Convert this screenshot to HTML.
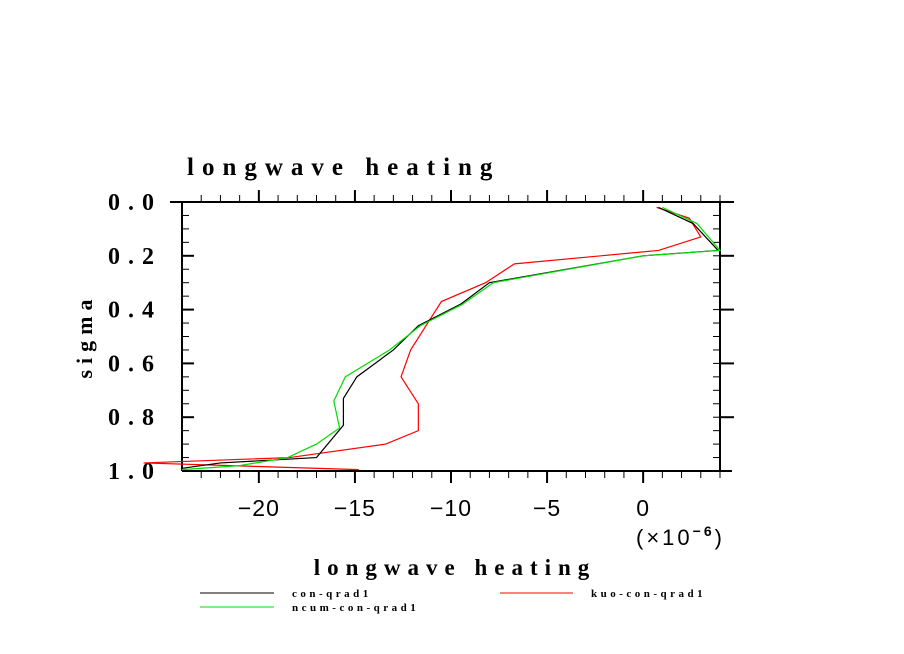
<!DOCTYPE html>
<html><head><meta charset="utf-8"><style>
body{margin:0;background:#fff}
svg{display:block}
text{font-family:"Liberation Serif",serif;font-weight:bold;fill:#000}
</style></head><body>
<svg id="chart" width="904" height="654" viewBox="0 0 904 654" xmlns="http://www.w3.org/2000/svg">
<text x="187" y="175" font-size="25" letter-spacing="8">longwave heating</text>
<g id="axes"></g>
<g id="series"></g>
<text transform="translate(92,336) rotate(-90)" text-anchor="middle" font-size="22" letter-spacing="6">sigma</text>
<text x="455" y="575" text-anchor="middle" font-size="23" letter-spacing="7">longwave heating</text>
<text x="636" y="545" font-size="22" style="font-family:'Liberation Sans',sans-serif;font-weight:normal" letter-spacing="3">(×10<tspan dy="-9" font-size="14" style="font-weight:bold">−6</tspan><tspan dy="9">)</tspan></text>
<g>
<line x1="200" y1="593" x2="274" y2="593" stroke="#000" stroke-width="1"/>
<text x="292" y="597" font-size="11" letter-spacing="3.5">con-qrad1</text>
<line x1="200" y1="607" x2="274" y2="607" stroke="#00dd00" stroke-width="1"/>
<text x="292" y="611" font-size="11" letter-spacing="3.5">ncum-con-qrad1</text>
<line x1="500" y1="593" x2="573" y2="593" stroke="#f00" stroke-width="1"/>
<text x="591" y="597" font-size="11" letter-spacing="3.5">kuo-con-qrad1</text>
</g>
</svg>
<script>
const xTicks=[-20,-15,-10,-5,0];
const yTicks=[0,0.2,0.4,0.6,0.8,1.0];
const yTickLabels=["0.0","0.2","0.4","0.6","0.8","1.0"];
const blackSigma=[0.02,0.08,0.18,0.2,0.3,0.38,0.46,0.55,0.65,0.73,0.83,0.95,0.97,0.99];
const blackVals=[0.8,2.6,3.9,0,-8,-9.5,-11.7,-13,-14.9,-15.6,-15.6,-17,-22,-24];
const greenSigma=[0.02,0.08,0.18,0.2,0.3,0.38,0.46,0.55,0.65,0.74,0.84,0.9,0.95,0.98,0.995];
const greenVals=[1,2.8,4,0,-7.8,-9.4,-11.6,-13.2,-15.5,-16.1,-15.8,-17,-18.5,-21,-24];
const redSigma=[0.02,0.06,0.13,0.18,0.2,0.23,0.3,0.37,0.46,0.55,0.65,0.75,0.85,0.9,0.95,0.97,0.995];
const redVals=[0.7,2.4,3,0.8,-2.2,-6.7,-8.2,-10.5,-11.3,-12.1,-12.6,-11.7,-11.7,-13.4,-18.4,-26,-14.8];
const X0=182,X1=720,Y0=202,Y1=471,XMIN=-24,XMAX=4;
const sx=v=>X0+(v-XMIN)/(XMAX-XMIN)*(X1-X0);
const sy=s=>Y0+s*(Y1-Y0);
const NS="http://www.w3.org/2000/svg";
const axes=document.getElementById('axes');
function ln(x1,y1,x2,y2,w){const l=document.createElementNS(NS,'line');l.setAttribute('x1',x1);l.setAttribute('y1',y1);l.setAttribute('x2',x2);l.setAttribute('y2',y2);l.setAttribute('stroke','#000');l.setAttribute('stroke-width',w);axes.appendChild(l);return l;}
let f=ln(X0,Y0,X1,Y0,2);


f=ln(X0,Y1,X1+12,Y1,2);


f=ln(X0,Y0,X0,Y1,2);


f=ln(X1,Y0,X1,Y1,2);


ln(X0-12,Y0,X0,Y0,2);ln(X1,Y0,X1+14,Y0,2);
for(let v=-23;v<=4;v++){
  const x=sx(v),maj=xTicks.includes(v);
  ln(x,Y1,x,Y1+(maj?12:7),maj?2:1);
  ln(x,Y0,x,Y0-(maj?12:7),maj?2:1);
}
for(let i=1;i<20;i++){
  const s=i*0.05,maj=(i%4===0);
  ln(X0,sy(s),X0+(maj?12:7),sy(s),maj?2:1);
  ln(X1,sy(s),X1-7,sy(s),1);
  if(maj)ln(X1,sy(s),X1+14,sy(s),2);
}
xTicks.forEach(v=>{
  const t=document.createElementNS(NS,'text');
  
  
  t.setAttribute('x',sx(v));t.setAttribute('y',Y1+45);t.setAttribute('text-anchor','middle');
  t.setAttribute('font-size','23');t.setAttribute('letter-spacing','1');
  t.setAttribute('style',"font-family:'Liberation Sans',sans-serif;font-weight:normal");
  t.textContent=(v<0?'−':'')+Math.abs(v);axes.appendChild(t);
});
yTicks.forEach((s,i)=>{
  const t=document.createElementNS(NS,'text');
  
  
  t.setAttribute('x',162);t.setAttribute('y',sy(s)+8);t.setAttribute('text-anchor','end');
  t.setAttribute('font-size','24');t.setAttribute('letter-spacing','8');
  t.textContent=yTickLabels[i];axes.appendChild(t);
});
const ser=document.getElementById('series');
function line(vals,sig,color,name){
  const p=document.createElementNS(NS,'polyline');
  
  
  p.setAttribute('points',vals.map((v,i)=>sx(v)+','+sy(sig[i])).join(' '));
  p.setAttribute('fill','none');p.setAttribute('stroke',color);p.setAttribute('stroke-width','1.2');
  ser.appendChild(p);
}
line(redVals,redSigma,'#ff0000','kuo-con-qrad1-line');
line(blackVals,blackSigma,'#000000','con-qrad1-line');
line(greenVals,greenSigma,'#00dd00','ncum-con-qrad1-line');
</script>
</body></html>
